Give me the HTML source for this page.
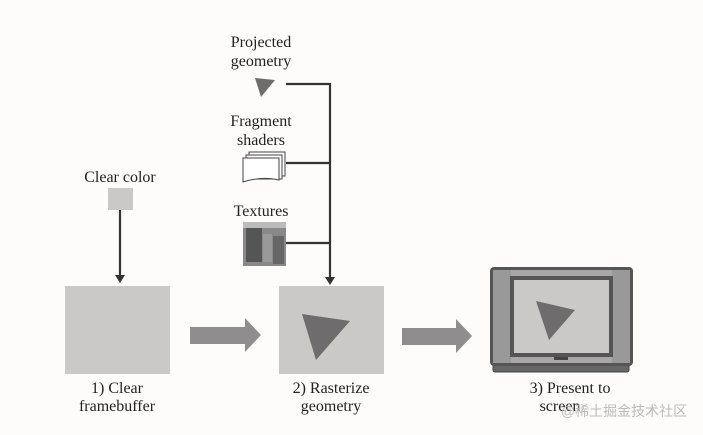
<!DOCTYPE html>
<html><head><style>
body{margin:0;background:#fdfcfb;}
svg{display:block;}
text{font-family:"Liberation Serif",serif;font-size:16px;fill:#222;}
</style></head><body>
<svg width="703" height="435" viewBox="0 0 703 435">
<rect width="703" height="435" fill="#fdfcfb"/>
<text x="120" y="182" text-anchor="middle">Clear color</text>
<rect x="108" y="188" width="25" height="22" fill="#cbc8c8"/>
<line x1="120" y1="210" x2="120" y2="276" stroke="#333" stroke-width="2.2"/>
<polygon points="115,275 125,275 120,283" fill="#333"/>
<rect x="65" y="286" width="105" height="88" fill="#cbc8c8"/>
<text x="117" y="393" text-anchor="middle">1) Clear</text>
<text x="117" y="411" text-anchor="middle">framebuffer</text>
<rect x="190" y="327" width="56" height="17" fill="#8f8d8d"/>
<polygon points="245,318 261,335 245,352" fill="#8f8d8d"/>
<text x="261" y="47" text-anchor="middle">Projected</text>
<text x="261" y="66" text-anchor="middle">geometry</text>
<polygon points="255,78 275,80 261,97" fill="#6e6c6c"/>
<text x="261" y="126" text-anchor="middle">Fragment</text>
<text x="261" y="145" text-anchor="middle">shaders</text>
<g fill="#fff" stroke="#444" stroke-width="1">
<rect x="249" y="152" width="36" height="24"/>
<rect x="246" y="155" width="36" height="24"/>
<path d="M243,158 H279 V180 Q262,176 243,182 Z"/>
</g>
<text x="261" y="216" text-anchor="middle">Textures</text>
<rect x="243" y="222" width="43" height="44" fill="#888"/>
<rect x="246" y="228" width="16" height="34" fill="#555"/>
<rect x="263" y="234" width="9" height="28" fill="#999"/>
<rect x="273" y="236" width="11" height="28" fill="#666"/>
<rect x="243" y="222" width="43" height="6" fill="#bbb"/>
<g stroke="#333" stroke-width="2.2" fill="none">
<path d="M286,84 H330 V278"/>
<line x1="286" y1="163" x2="330" y2="163"/>
<line x1="286" y1="243" x2="330" y2="243"/>
</g>
<polygon points="325,277 335,277 330,285" fill="#333"/>
<rect x="279" y="286" width="105" height="88" fill="#cbc8c8"/>
<polygon points="302,314 350,321 316,360" fill="#6e6c6c"/>
<text x="331" y="393" text-anchor="middle">2) Rasterize</text>
<text x="331" y="411" text-anchor="middle">geometry</text>
<rect x="402" y="328" width="55" height="17" fill="#8f8d8d"/>
<polygon points="456,319 472,336 456,353" fill="#8f8d8d"/>
<rect x="493" y="363" width="136" height="9" rx="2" fill="#666" stroke="#444"/>
<rect x="490" y="267" width="143" height="99" rx="4" fill="#555"/>
<rect x="493" y="270" width="18" height="93" fill="#999"/>
<rect x="612" y="270" width="18" height="93" fill="#999"/>
<rect x="511" y="270" width="101" height="93" fill="#a9a7a7"/>
<rect x="510" y="276" width="103" height="81" fill="#555"/>
<rect x="514" y="280" width="95" height="73" fill="#cbc8c8"/>
<polygon points="536,301 575,310 549,340" fill="#6e6c6c"/>
<rect x="554" y="357" width="14" height="3" fill="#444"/>
<text x="570" y="393" text-anchor="middle">3) Present to</text>
<text x="560" y="411" text-anchor="middle">screen</text>
<text x="624" y="416" text-anchor="middle" style="font-family:'Liberation Sans','Noto Sans CJK SC',sans-serif;font-size:14px;fill:#bbb">@稀土掘金技术社区</text>
</svg>
</body></html>
